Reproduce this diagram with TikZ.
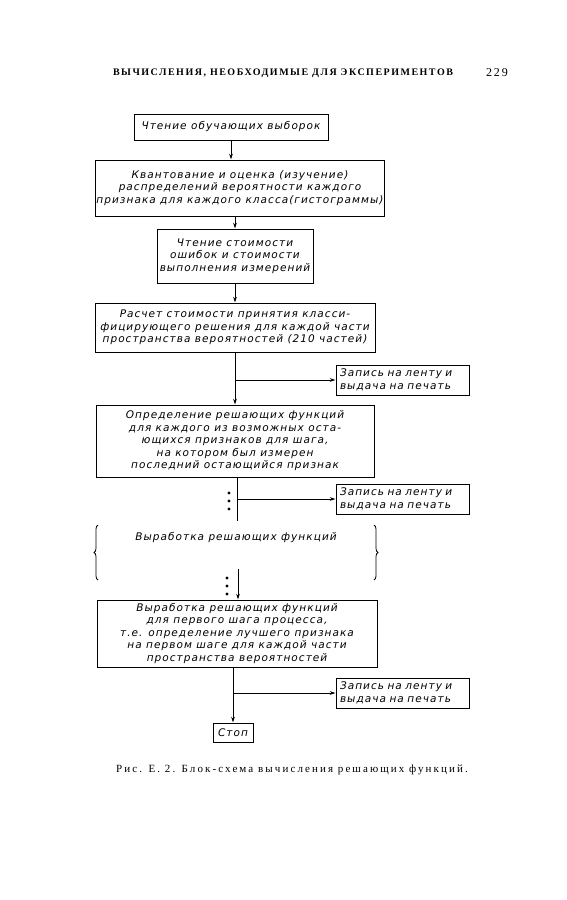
\documentclass[tikz,border=0pt]{standalone}
\usepackage{fontspec}
\setmainfont{Liberation Serif}
\newfontfamily\boxfont[LetterSpace=10]{DejaVu Sans}
\newfontfamily\headfont[LetterSpace=15]{Liberation Serif}
\newfontfamily\capfont[LetterSpace=19]{Liberation Serif}
\usetikzlibrary{positioning,arrows.meta,decorations.pathreplacing}

\begin{document}
\begin{tikzpicture}[x=1pt, y=-1pt,
        every node/.style={font=\boxfont\itshape\fontsize{10.5}{12.5}\selectfont},
        block/.style={rectangle, draw, line width=1pt, inner sep=1pt, align=center},
        tape/.style={rectangle, draw, line width=1pt, inner sep=4pt, align=left, text width=125pt, minimum height=30pt},
        arrow/.style={-{Stealth[length=2mm, width=1.3mm]}, line width=0.8pt},
        line/.style={line width=0.8pt}
    ]
    \useasboundingbox (0,0) rectangle (567,900);
    % page header
    \node[font=\headfont\bfseries\fontsize{10}{11}\selectfont] (head) at (283,73) {ВЫЧИСЛЕНИЯ, НЕОБХОДИМЫЕ ДЛЯ ЭКСПЕРИМЕНТОВ};
    \node[font=\headfont\fontsize{12}{13}\selectfont] (page) at (497,73) {229};
    % main column
    \node[block, minimum width=194pt, minimum height=26pt] (read) at (231,127) {Чтение обучающих выборок};
    \node[block, minimum width=288pt, minimum height=56pt] (quant) at (240,188) {Квантование и оценка (изучение)\\распределений вероятности каждого\\признака для каждого класса(гистограммы)};
    \node[block, minimum width=156pt, minimum height=54pt] (cost) at (235,256) {Чтение стоимости\\ошибок и стоимости\\выполнения измерений};
    \node[block, minimum width=280pt, minimum height=49pt] (risk) at (235,327.5) {Расчет стоимости принятия класси-\\фицирующего решения для каждой части\\пространства вероятностей (210 частей)};
    \node[block, minimum width=278pt, minimum height=72pt] (decide) at (235,441) {Определение решающих функций\\для каждого из возможных оста-\\ющихся признаков для шага,\\на котором был измерен\\последний остающийся признак};
    \node (phase) at (236,538) {Выработка решающих функций};
    \node[block, minimum width=280pt, minimum height=67pt] (first) at (237,633.5) {Выработка решающих функций\\для первого шага процесса,\\т.е. определение лучшего признака\\на первом шаге для каждой части\\пространства вероятностей};
    \node[block, minimum width=40pt, minimum height=19pt] (stop) at (233,732.5) {Стоп};
    % output boxes
    \foreach \n/\y in {A/380, B/499, C/693} {
        \node[tape] (tape\n) at (402.5,\y) {Запись на ленту и\\выдача на печать};
    }
    % connectors
    \draw[arrow] (read) -- (read |- quant.north);
    \draw[arrow] (cost |- quant.south) -- (cost);
    \draw[arrow] (cost) -- (risk);
    \coordinate (jA) at (risk.south |- tapeA);
    \draw[line] (risk) -- (jA);
    \draw[arrow] (jA) -- (decide);
    \draw[arrow] (jA) -- (tapeA);
    \coordinate (cutB) at (237,521);
    \coordinate (jB) at (cutB |- tapeB);
    \draw[line] (decide.south -| cutB) -- (cutB);
    \draw[arrow] (jB) -- (tapeB);
    \foreach \y in {493,501,509} \fill (229,\y) circle (1.6pt);
    \draw[line, decorate, decoration={brace, amplitude=4pt}] (98,580) -- (98,525);
    \draw[line, decorate, decoration={brace, amplitude=4pt}] (374,525) -- (374,580);
    \coordinate (cutC) at (238,569);
    \draw[arrow] (cutC) -- (cutC |- first.north);
    \foreach \y in {578,586,594} \fill (227,\y) circle (1.6pt);
    \coordinate (jC) at (stop |- tapeC);
    \draw[line] (first.south -| stop) -- (jC);
    \draw[arrow] (jC) -- (stop);
    \draw[arrow] (jC) -- (tapeC);
    % caption
    \node[font=\capfont\fontsize{11}{12}\selectfont] (caption) at (292,770) {Рис. Е. 2. Блок-схема вычисления решающих функций.};
\end{tikzpicture}
\end{document}
